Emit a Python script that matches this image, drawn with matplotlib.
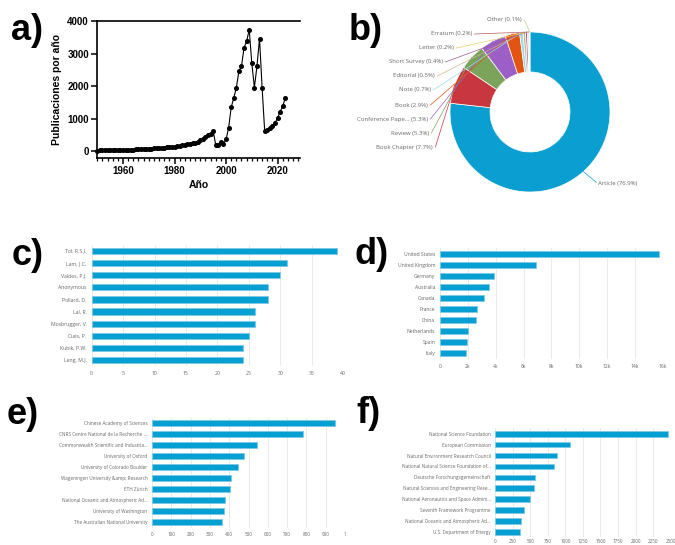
# Bibliometric summary figure: publications per year, document types and top-10 rankings

import numpy as np
import matplotlib.pyplot as plt
from matplotlib.ticker import MultipleLocator

W, H = 675, 545

years = list(range(1950, 2024))
pubs = [15, 18, 20, 22, 24, 26, 28, 30, 32, 34,
        36, 38, 40, 43, 46, 50, 54, 58, 62, 66,
        70, 75, 80, 85, 90, 96, 102, 110, 118, 126,
        135, 145, 155, 170, 190, 210, 230, 245, 260, 285,
        330, 380, 430, 480, 530, 620, 180, 185, 280, 205,
        360, 710, 1350, 1630, 1950, 2460, 2610, 3180, 3380, 3730,
        2710, 1950, 2610, 3460, 1950, 615, 650, 710, 780, 850,
        1030, 1200, 1390, 1620]

doc_types = ["Article", "Book Chapter", "Review", "Conference Pape...", "Book", "Note",
             "Editorial", "Short Survey", "Letter", "Erratum", "Other"]
doc_pct = [76.9, 7.7, 5.3, 5.3, 2.9, 0.7, 0.5, 0.4, 0.2, 0.2, 0.1]
doc_colors = ['#0a9fd0', '#c8373f', '#7ba35a', '#9b5fc6', '#e2540f', '#97dde8',
              '#cdb58b', '#a05a9a', '#e6cf6a', '#b45a5a', '#b8d27a']

authors = ["Tol, R.S.J.", "Lam, J.C.", "Valdes, P.J.", "Anonymous", "Pollard, D.",
           "Lal, R.", "Mosbrugger, V.", "Ciais, P.", "Kubik, P.W.", "Leng, M.J."]
author_docs = [39, 31, 30, 28, 28, 26, 26, 25, 24, 24]

countries = ["United States", "United Kingdom", "Germany", "Australia", "Canada",
             "France", "China", "Netherlands", "Spain", "Italy"]
country_docs = [15700, 6900, 3900, 3550, 3190, 2660, 2610, 1990, 1960, 1870]

institutions = ["Chinese Academy of Sciences", "CNRS Centre National de la Recherche ...",
                "Commonwealth Scientific and Industria...", "University of Oxford",
                "University of Colorado Boulder", "Wageningen University &amp; Research",
                "ETH Zürich", "National Oceanic and Atmospheric Ad...",
                "University of Washington", "The Australian National University"]
inst_docs = [948, 784, 544, 477, 446, 411, 402, 380, 371, 363]

sponsors = ["National Science Foundation", "European Commission",
            "Natural Environment Research Council", "National Natural Science Foundation of...",
            "Deutsche Forschungsgemeinschaft", "Natural Sciences and Engineering Rese...",
            "National Aeronautics and Space Admini...", "Seventh Framework Programme",
            "National Oceanic and Atmospheric Ad...", "U.S. Department of Energy"]
sponsor_docs = [2470, 1065, 884, 832, 566, 547, 499, 409, 366, 356]

BLUE = '#069fd2'
EDGE = '#7cc9e8'
GRAY = '#666666'
SANS = ['Open Sans', 'DejaVu Sans']
BOLD = ['Liberation Sans', 'DejaVu Sans']

fig = plt.figure(figsize=(W / 100, H / 100), dpi=100)


def px_axes(left, top, right, bottom, **kw):
    return fig.add_axes([left / W, 1 - bottom / H, (right - left) / W, (bottom - top) / H], **kw)


# overlay in pixel coordinates for the panel letters
ov = px_axes(0, 0, W, H)
ov.set_xlim(0, W)
ov.set_ylim(H, 0)
ov.axis('off')
for letter, x, y in [("a)", 11, 40), ("b)", 349, 40), ("c)", 12, 265),
                     ("d)", 354, 264), ("e)", 7, 424), ("f)", 356, 423)]:
    ov.text(x, y, letter, fontsize=26, fontweight='bold', family=BOLD, va='baseline')

# a) publications per year
ax = px_axes(97.3, 21, 300, 158)
ax.plot(years, pubs, '-o', color='black', lw=0.8, ms=2.6, clip_on=False, zorder=3)
ax.set_xlim(1950, 1950 + (300 - 97.3) / 2.575)
ax.set_ylim(-215, 4000)
ax.spines['right'].set_visible(False)
for s in ['left', 'bottom', 'top']:
    ax.spines[s].set_linewidth(1.2)
ax.xaxis.set_major_locator(MultipleLocator(20))
ax.xaxis.set_minor_locator(MultipleLocator(2))
ax.yaxis.set_major_locator(MultipleLocator(1000))
ax.tick_params(which='major', length=4, width=1.1, labelsize=7, pad=2)
ax.tick_params(which='minor', length=2.5, width=0.9)
for lab in ax.get_xticklabels() + ax.get_yticklabels():
    lab.set_fontweight('bold')
    lab.set_family(BOLD)
ax.set_xlabel("Año", fontsize=7.5, fontweight='bold', family=BOLD, labelpad=3)
ax.set_ylabel("Publicaciones por año", fontsize=7.5, fontweight='bold', family=BOLD, labelpad=4)

# b) document types donut
cx, cy, R = 530, 112, 80
axp = px_axes(cx - R, cy - R, cx + R, cy + R)
wedges, _ = axp.pie(doc_pct, colors=doc_colors, startangle=90, counterclock=False,
                    radius=1, wedgeprops=dict(width=0.5, edgecolor='white', linewidth=0.5))
axp.set_xlim(-1, 1)
axp.set_ylim(-1, 1)
axp.set_aspect('equal')

label_px = {"Other": (522, 20), "Erratum": (472, 34), "Letter": (454, 48),
            "Short Survey": (443, 62), "Editorial": (435, 76), "Note": (431, 90),
            "Book": (428, 105), "Conference Pape...": (428, 119), "Review": (429, 133),
            "Book Chapter": (433, 147), "Article": (598, 184)}
for w, name, pct, col in zip(wedges, doc_types, doc_pct, doc_colors):
    mid = np.deg2rad((w.theta1 + w.theta2) / 2)
    tx, ty = np.cos(mid), np.sin(mid)
    lx, ly = label_px[name]
    xd, yd = (lx - cx) / R, (cy - ly) / R
    txt = f"{name} ({pct}%)"
    if name == "Article":
        axp.text(xd, yd, txt, ha='left', va='center', fontsize=4.3, color=GRAY, family=SANS)
        axp.plot([xd - 0.02, tx * 1.0], [yd + 0.02, ty * 1.0], color=col, lw=0.5, clip_on=False)
    else:
        axp.text(xd, yd, txt, ha='right', va='center', fontsize=4.3, color=GRAY, family=SANS)
        axp.plot([xd + 0.03, tx * 1.0], [yd, ty * 1.0], color=col, lw=0.5, clip_on=False)


# c) - f) horizontal bar rankings
def bar_panel(left, right, y0, step, labels, values, xmax, ticks, ticklabels, fs, pad, xpad=None):
    axb = px_axes(left, y0 - step / 2, right, y0 + step * (len(values) - 0.5))
    pos = np.arange(len(values))
    axb.barh(pos, values, height=0.52, color=BLUE, edgecolor=EDGE, linewidth=0.6, zorder=3)
    axb.set_ylim(len(values) - 0.5, -0.5)
    axb.set_xlim(0, xmax)
    axb.set_yticks(pos, labels)
    axb.set_xticks(ticks, ticklabels)
    axb.grid(axis='x', color='#e6e6e6', lw=0.6, zorder=0)
    for s in axb.spines.values():
        s.set_visible(False)
    axb.tick_params(length=0, labelsize=fs, labelcolor=GRAY, pad=pad)
    if xpad is not None:
        axb.tick_params(axis='x', pad=xpad)
    for lab in axb.get_xticklabels() + axb.get_yticklabels():
        lab.set_family(SANS)
    return axb


bar_panel(91.7, 343.1, 250.7, 12.18, authors, author_docs, 40,
          range(0, 41, 5), [str(t) for t in range(0, 41, 5)], 3.7, 3.6)
bar_panel(440, 662.7, 254, 11.03, countries, country_docs, 16000,
          range(0, 16001, 2000), ["0"] + [f"{t}k" for t in range(2, 17, 2)], 3.6, 3.4)
bar_panel(152, 345, 423.3, 10.97, institutions, inst_docs, 1000,
          range(0, 1001, 100), [str(t) for t in range(0, 901, 100)] + ["1"], 3.3, 3.4)
bar_panel(495.3, 670.6, 433.7, 10.92, sponsors, sponsor_docs, 2500,
          range(0, 2501, 250), [str(t) for t in range(0, 2501, 250)], 3.3, 3.2, xpad=1.2)

fig.savefig("out.png", dpi=100)
